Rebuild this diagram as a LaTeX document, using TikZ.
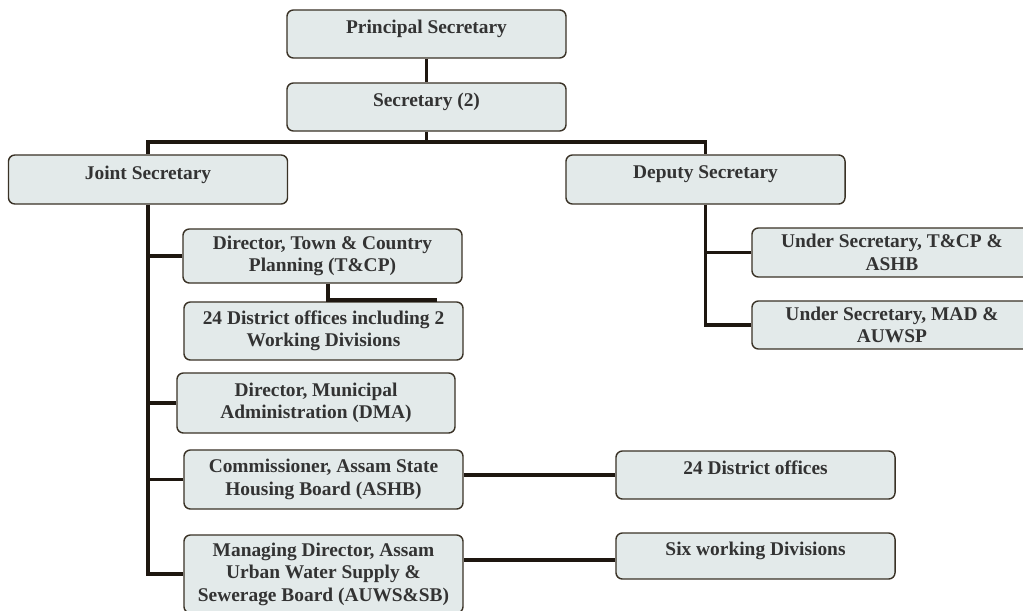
\documentclass[tikz,border=0pt]{standalone}
\usepackage{fontspec}
\setmainfont{Liberation Serif}
\usepackage{tikz}

\definecolor{boxfill}{HTML}{E3EAEA}
\definecolor{boxline}{HTML}{3A3226}
\definecolor{linkcol}{HTML}{1E1710}
\definecolor{txtcol}{HTML}{333333}

\begin{document}
\begin{tikzpicture}[x=0.025cm,y=-0.025cm,
        office/.style={draw=boxline,fill=boxfill,line width=1pt,rounded corners=0.16cm,
          minimum width=6.975cm,minimum height=1.2cm,align=center,inner sep=2pt,
          text=txtcol,font=\fontsize{13.8}{16}\selectfont\bfseries},
        oneline/.style={office,text depth=0.36cm},
        link/.style={draw=linkcol,line width=2.8pt}]
        \useasboundingbox (0,0) rectangle (1023,610);
        \node[oneline] (ps) at (426.5,34) {Principal Secretary};
        \node[oneline] (sec) at (426.5,107) {Secretary (2)};
        \node[oneline,minimum height=1.225cm] (js) at (148,179.5) {Joint Secretary};
        \node[oneline,minimum height=1.225cm] (ds) at (705.5,179.5) {Deputy Secretary};
        \node[office,minimum height=1.35cm] (tcp) at (322.5,256) {Director, Town \& Country\\Planning (T\&CP)};
        \node[office,minimum height=1.45cm] (dist) at (323.5,331) {24 District offices including 2\\Working Divisions};
        \node[office,minimum height=1.5cm,minimum width=6.95cm] (dma) at (316,403) {Director, Municipal\\Administration (DMA)};
        \node[office,minimum height=1.475cm] (ashb) at (323.5,479.5) {Commissioner, Assam State\\Housing Board (ASHB)};
        \node[office,minimum height=1.95cm] (md) at (323.5,574) {Managing Director, Assam\\Urban Water Supply \&\\Sewerage Board (AUWS\&SB)};
        \node[oneline] (do) at (755.5,475) {24 District offices};
        \node[oneline,minimum height=1.15cm] (six) at (755.5,556) {Six working Divisions};
        \node[office,minimum height=1.225cm,minimum width=7cm] (us1) at (892,252.5) {Under Secretary, T\&CP \&\\ASHB};
        \node[office,minimum width=7cm] (us2) at (892,325) {Under Secretary, MAD \&\\AUWSP};
        \coordinate (busL) at (148,142);
        \coordinate (busR) at (705.5,142);
        \coordinate (stub) at (437,300);
        \draw[link] (ps) -- (sec);
        \draw[link] (sec) -- (sec |- busL);
        \draw[link] (js) -- (busL) -- (busR) -- (ds);
        \draw[link] (js.south) |- (md.west);
        \foreach \n in {tcp,dma,ashb} {
          \draw[link] (\n.west) -- (\n.west -| js.south);
        }
        \draw[link] (ds.south) |- (us2.west);
        \draw[link] (us1.west) -- (us1.west -| ds.south);
        \draw[link] ([xshift=0.14cm]tcp.south) |- (stub);
        \draw[link] (do.west) -- (do.west -| ashb.east);
        \draw[link] ([yshift=-0.1cm]six.west) -- ([yshift=-0.1cm]six.west -| md.east);
      \end{tikzpicture}
\end{document}
